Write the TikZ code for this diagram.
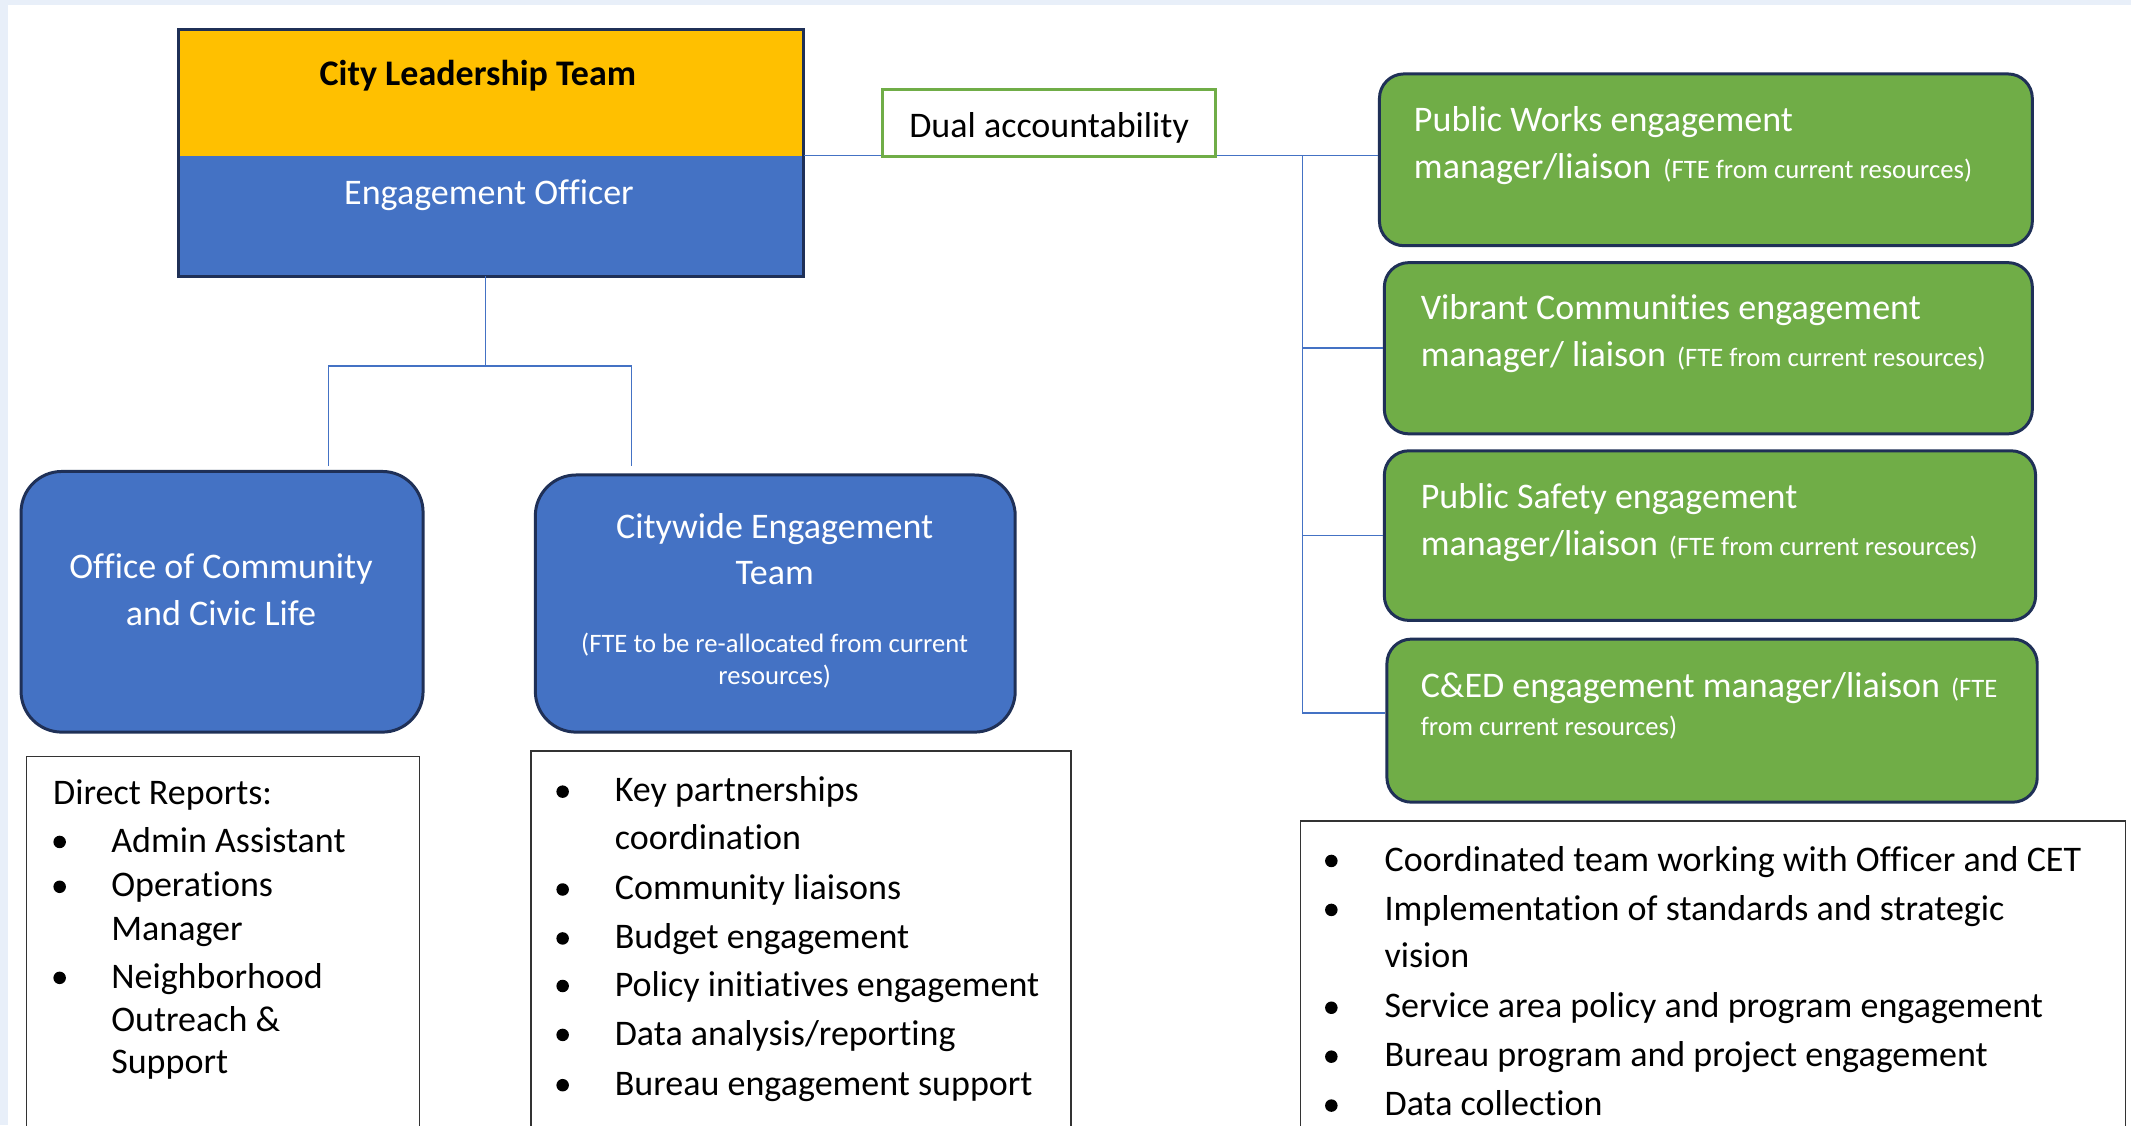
\documentclass[tikz,border=0pt]{standalone}
\usepackage{fontspec}
\setmainfont{Carlito}[Ligatures=NoCommon]
\definecolor{leadgold}{HTML}{FFC000}
\definecolor{officeblue}{HTML}{4472C4}
\definecolor{liaisongreen}{HTML}{70AD47}
\definecolor{edgenavy}{HTML}{1F3057}
\definecolor{pageblue}{HTML}{E8EFF9}
\newcommand{\bodysize}{\fontsize{13.25}{16}\selectfont}
\newcommand{\ftesize}{\fontsize{9.8}{12}\selectfont}
\newcommand{\listframe}[2]% top left corner, right x
{(#1) rectangle (#2,870)
}

\begin{document}
\begin{tikzpicture}[x=0.5pt,y=-0.5pt,
    conn/.style={draw=officeblue,line width=0.6pt},
    headbox/.style={minimum width=229.7pt,inner sep=0pt},
    unitbox/.style={draw=edgenavy,line width=1.1pt,fill=officeblue,rounded corners=15pt,inner sep=0pt},
    liaisonbox/.style={draw=edgenavy,line width=1.1pt,fill=liaisongreen,rounded corners=9pt,inner sep=0pt},
    boxtext/.style={anchor=base,font=\bodysize,inner sep=0pt,yshift=-1pt},
    listtext/.style={anchor=base west,font=\bodysize,inner sep=0pt,yshift=-1pt},
    listedge/.style={draw=black!80,line width=0.6pt}]
  \useasboundingbox (0,0) rectangle (1568,828);
  \clip (0,0) rectangle (1568,828);
  \fill[pageblue] (0,0) rectangle (1568,828);
  \fill[white] (6,4) rectangle (1568,828);

  \node[headbox,fill=leadgold,minimum height=46.25pt] (clt) at (361.3,68.55) {};
  \node[headbox,fill=officeblue,minimum height=44.05pt] (eo) at (361.3,158.85) {};
  \draw[edgenavy,line width=1.1pt] (clt.north west) rectangle (eo.south east);
  \node[boxtext,font=\bodysize\bfseries] (cltname) at (351.6,61) {City Leadership Team};
  \node[boxtext,text=white] (eoname) at (359.8,148.5) {Engagement Officer};

  \node[unitbox,minimum width=147.9pt,minimum height=95.9pt] (occl) at (163.4,442.8) {};
  \node[unitbox,minimum width=176.55pt,minimum height=94.6pt] (cet) at (570.45,444.1) {};
  \node[boxtext,text=white] (occlname1) at (162.6,424) {Office of Community};
  \node[boxtext,text=white] (occlname2) at (162.6,458.4) {and Civic Life};
  \node[boxtext,text=white] (cetname1) at (570,394.2) {Citywide Engagement};
  \node[boxtext,text=white] (cetname2) at (570,428.4) {Team};
  \node[boxtext,text=white,font=\ftesize] (cetfte1) at (570,478.3) {(FTE to be re-allocated from current};
  \node[boxtext,text=white,font=\ftesize] (cetfte2) at (570,502) {resources)};

  \coordinate (split) at (357.2,269.4);
  \coordinate (dropL) at (241.6,343);
  \coordinate (dropR) at (464.6,343);
  \draw[conn] (split |- eo.south) -- (split);
  \draw[conn] (dropL) |- (split) -| (dropR);

  \node[liaisonbox,minimum width=240.2pt,minimum height=63.2pt] (pw) at (1255.2,117.6) {};
  \node[liaisonbox,minimum width=238.4pt,minimum height=63pt] (vc) at (1257,256.25) {};
  \node[liaisonbox,minimum width=239.6pt,minimum height=62.4pt] (ps) at (1258.2,394.1) {};
  \node[liaisonbox,minimum width=239.25pt,minimum height=60pt] (ced) at (1259.75,530.25) {};

  \coordinate (bus) at (958.4,114.8);
  \coordinate (busend) at (958.4,524.7);
  \draw[conn] (eo.north east) -- (eo.north east -| pw.west);
  \draw[conn] (bus) -- (busend) -- (busend -| ced.west);
  \draw[conn] (bus |- vc.west) -- (vc.west);
  \draw[conn] (bus |- ps.west) -- (ps.west);

  \node[draw=liaisongreen,line width=1.1pt,fill=white,minimum width=122.55pt,minimum height=24.55pt,
    font=\bodysize,text height=11pt,text depth=0pt,inner sep=0pt] (dual) at (771.95,90.25) {Dual accountability};

  \node[listtext,text=white] (pwline1) at (1040,94.6) {Public Works engagement};
  \node[listtext,text=white] (pwline2) at (1040,129.3) {manager/liaison\hspace{4.5pt}{\ftesize(FTE from current resources)}};
  \node[listtext,text=white] (vcline1) at (1045,233.4) {Vibrant Communities engagement};
  \node[listtext,text=white] (vcline2) at (1045,268) {manager/ liaison\hspace{4pt}{\ftesize(FTE from current resources)}};
  \node[listtext,text=white] (psline1) at (1045,371.9) {Public Safety engagement};
  \node[listtext,text=white] (psline2) at (1045,406.8) {manager/liaison\hspace{4pt}{\ftesize(FTE from current resources)}};
  \node[listtext,text=white] (cedline1) at (1045,511.4) {C\&ED engagement manager/liaison\hspace{4pt}{\ftesize(FTE}};
  \node[listtext,text=white,font=\ftesize] (cedline2) at (1045,539.3) {from current resources)};

  \draw[listedge] \listframe{19.6,556.5}{308.7};
  \node[listtext] (reports) at (38.7,590) {Direct Reports:};
  \foreach \yb/\bul/\txt [count=\i] in {625/1/Admin Assistant, 658/1/Operations, 690/0/Manager,
      725/1/Neighborhood, 757/0/{Outreach \&}, 788/0/Support}{
    \ifnum\bul=1 \fill (43.9,\yb-5.5) circle (2.3pt); \fi
    \node[listtext] (report\i) at (81.5,\yb) {\txt};
  }

  \draw[listedge] \listframe{390.7,552.5}{788};
  \foreach \yb/\bul/\txt [count=\i] in {588/1/Key partnerships, 623/0/coordination, 660/1/Community liaisons,
      696/1/Budget engagement, 731/1/Policy initiatives engagement, 767/1/{Data analysis/reporting},
      804/1/Bureau engagement support}{
    \ifnum\bul=1 \fill (414,\yb-5.5) circle (2.3pt); \fi
    \node[listtext] (cetduty\i) at (452,\yb) {\txt};
  }

  \draw[listedge] \listframe{956.9,604}{1564};
  \foreach \yb/\bul/\txt [count=\i] in {639/1/Coordinated team working with Officer and CET,
      675/1/Implementation of standards and strategic, 710/0/vision,
      747/1/Service area policy and program engagement, 783/1/Bureau program and project engagement,
      819/1/Data collection}{
    \ifnum\bul=1 \fill (979.6,\yb-5.5) circle (2.3pt); \fi
    \node[listtext] (liaisonduty\i) at (1018.4,\yb) {\txt};
  }
\end{tikzpicture}
\end{document}
